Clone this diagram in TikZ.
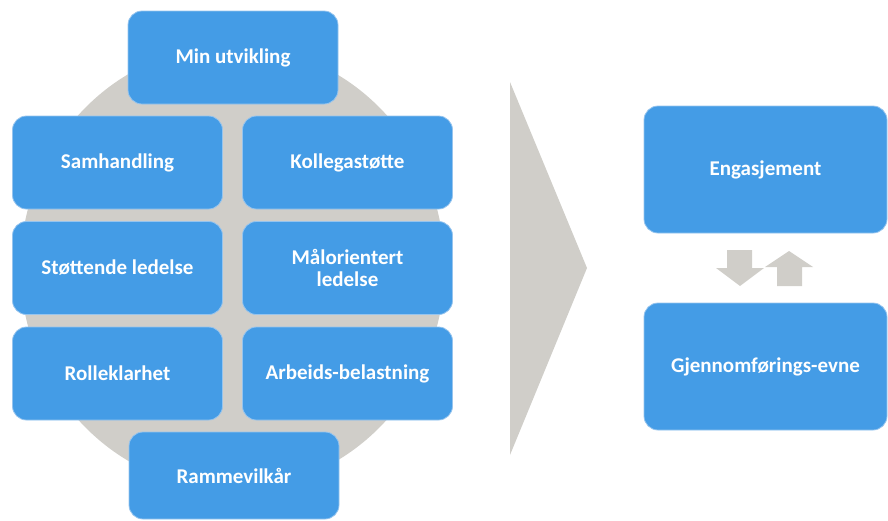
\documentclass[tikz,border=0pt]{standalone}
\usepackage{fontspec}
\setmainfont{Carlito}
\begin{document}
\definecolor{boxblue}{RGB}{68,156,230}
\definecolor{boxedge}{RGB}{150,196,238}
\definecolor{shadegray}{RGB}{208,206,201}
\begin{tikzpicture}[x=1pt,y=-1pt,
  tile/.style={rectangle, rounded corners=14pt, fill=boxblue, draw=boxedge,
    line width=0.8pt, text=white, font=\fontsize{21}{22}\selectfont\bfseries,
    align=center, inner sep=0pt, minimum width=210pt, minimum height=93pt},
  bigtile/.style={tile, minimum width=243pt, minimum height=127pt},
  graybg/.style={fill=shadegray, draw=none}]
\useasboundingbox (0,0) rectangle (888,520);

% backdrop behind the factor tiles
\fill[graybg] (232.5,267.5) ellipse [x radius=212, y radius=222];

% factor tiles
\node[tile] (utv)  at (233,57.5)    {Min utvikling};
\node[tile] (sam)  at (117.5,162.5) {Samhandling};
\node[tile] (kol)  at (347.5,162.5) {Kollegastøtte};
\node[tile] (sto)  at (117.5,268)   {Støttende ledelse};
\node[tile] (mal)  at (347.5,268)   {Målorientert\\ledelse};
\node[tile] (rol)  at (117.5,373.5) {Rolleklarhet};
\node[tile] (arb)  at (347.5,373.5) {Arbeids-belastning};
\node[tile, minimum height=87pt] (ram) at (234,475.5) {Rammevilkår};

% large pointer to the outcomes
\fill[graybg] (510,82) -- (587,268) -- (510,455) -- cycle;

% outcomes
\node[bigtile] (eng) at (765.5,169.5) {Engasjement};
\node[bigtile] (gjn) at (765.5,366.5) {Gjennomførings-evne};

% two-way block arrows between the outcomes
\fill[graybg] (727,250) -- (752,250) -- (752,268) -- (764,268) -- (740,286)
  -- (716,268) -- (727,268) -- cycle;
\fill[graybg] (777,286) -- (802,286) -- (802,267) -- (813,267) -- (789,251)
  -- (765,267) -- (777,267) -- cycle;
\end{tikzpicture}
\end{document}
